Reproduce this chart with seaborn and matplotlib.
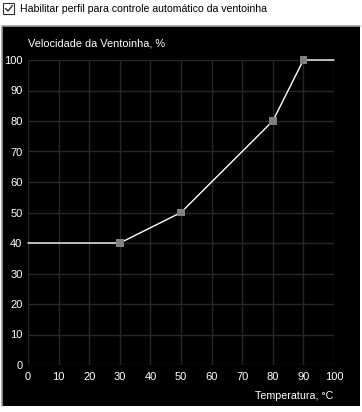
import matplotlib
matplotlib.use("Agg")
import matplotlib.pyplot as plt
import seaborn as sns
import pandas as pd
from matplotlib.patches import Rectangle
from matplotlib.lines import Line2D

sns.set_theme(style="dark")
plt.rcParams["font.family"] = ["Liberation Sans", "DejaVu Sans"]

# fan curve data
temps = [0, 30, 50, 80, 90, 100]
speeds = [40, 40, 50, 80, 100, 100]
point_temps = [30, 50, 80, 90]
point_speeds = [40, 50, 80, 100]
ticks = list(range(0, 101, 10))

W, H = 362, 412
fig = plt.figure(figsize=(W / 100, H / 100), dpi=100, facecolor="white")


def px_rect(x0, y0, x1, y1):
    # pixel box (top-left origin) -> figure fraction rect
    return [x0 / W, 1 - y1 / H, (x1 - x0) / W, (y1 - y0) / H]


# black panel with sunken border
l, b, w, h = px_rect(2, 26, 360, 406)
fig.patches.append(Rectangle((l, b), w, h, transform=fig.transFigure,
                             facecolor="black", edgecolor="none", zorder=-2))
fig.add_artist(Line2D([l, l, l + w], [b, b + h, b + h], transform=fig.transFigure,
                      color="#a0a0a0", lw=1.2, zorder=-1))

# checkbox + caption
cl, cb, cw, ch = px_rect(3, 3, 14, 14)
fig.patches.append(Rectangle((cl, cb), cw, ch, transform=fig.transFigure,
                             facecolor="white", edgecolor="#333333", lw=0.8))
fig.add_artist(Line2D([5.5 / W, 8 / W, 12.5 / W],
                      [1 - 8.5 / H, 1 - 11 / H, 1 - 5.5 / H],
                      transform=fig.transFigure, color="#333333", lw=1.0))
fig.text(20 / W, 1 - 9 / H, "Habilitar perfil para controle automático da ventoinha",
         fontsize=7.6, color="black", va="center", ha="left")

ax = fig.add_axes(px_rect(28, 60, 334, 365))
ax.set_facecolor("black")

df = pd.DataFrame({"temp": temps, "speed": speeds})
pts = pd.DataFrame({"temp": point_temps, "speed": point_speeds})

sns.lineplot(data=df, x="temp", y="speed", color="white", lw=1.0, ax=ax,
             clip_on=False, zorder=3)
sns.scatterplot(data=pts, x="temp", y="speed", marker="s", s=30, color="#808080",
                edgecolor="none", ax=ax, clip_on=False, zorder=4)

ax.set_xlim(0, 100)
ax.set_ylim(0, 100)
ax.set_xticks(ticks)
ax.set_yticks(ticks)
ax.grid(True, color="#262626", lw=1.0)
ax.set_axisbelow(True)
for s in ax.spines.values():
    s.set_visible(False)
ax.tick_params(axis="both", colors="white", labelsize=8, length=0)
ax.tick_params(axis="x", pad=5)
ax.tick_params(axis="y", pad=4)
ax.set_xlabel("")
ax.set_ylabel("")

fig.text(28 / W, 1 - 44 / H, "Velocidade da Ventoinha, %", color="white",
         fontsize=7.9, va="center", ha="left")
fig.text(333 / W, 1 - 396 / H, "Temperatura, °C", color="white",
         fontsize=7.7, va="center", ha="right")

fig.savefig("out.png", dpi=100, facecolor="white")
